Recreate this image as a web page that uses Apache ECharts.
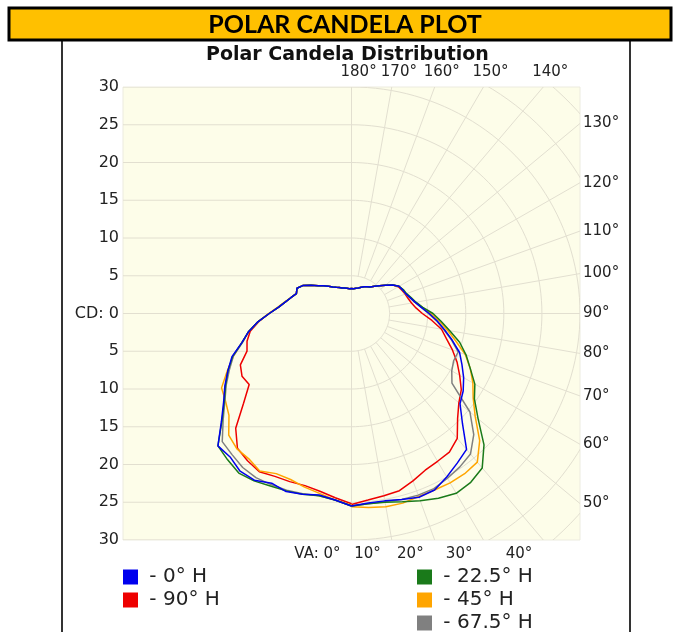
<!DOCTYPE html>
<html><head><meta charset="utf-8">
<script src="https://cdn.jsdelivr.net/npm/echarts@6/dist/echarts.min.js"></script>
<style>html,body{margin:0;padding:0;background:#fff}#c{width:679px;height:632px}</style>
</head><body><div id="c"></div>
<script>
// ---- data ----
const vaAngles = [0,5,10,15,20,25,30,35,40,45,50,55,60,65,70,75,80,85,90,95,100,105,110,115,120,125,130,135,140,145,150,155,160,165,170,175,180];
const seriesNames = ['0° H','22.5° H','45° H','67.5° H','90° H'];
const seriesColors = ['#0000ee','#1a7a1a','#ffa500','#808080','#ee0000'];
// candela values along the right half (VA 0..180) and left half (VA 0..180)
const cd0Right   = [25.5,25.2,25.2,25.5,25.9,25.8,25.0,24.2,23.5,20.6,18.6,17.9,17.0,16.0,15.1,13.7,12.4,11.3,10.2,9.2,8.5,8.0,7.6,7.4,7.2,6.6,5.8,5.2,4.7,4.3,4.1,3.9,3.7,3.5,3.4,3.3,3.3];
const cd0Left    = [25.5,24.8,24.4,24.8,25.1,24.8,25.5,25.5,24.8,24.8,22.3,20.5,19.2,17.9,16.7,14.9,13.7,12.3,10.8,9.6,8.8,8.2,7.7,7.9,7.4,6.5,5.7,5.2,4.7,4.3,4.0,3.8,3.6,3.5,3.4,3.3,3.3];
const cd225Right = [25.5,25.3,25.4,25.8,26.4,27.0,27.5,27.3,26.7,24.6,21.7,19.7,18.7,17.2,16.0,14.7,13.1,11.8,10.7,9.4,8.6,8.1,7.7,7.5,7.2,6.6,5.8,5.2,4.7,4.3,4.1,3.9,3.7,3.5,3.4,3.3,3.3];
const cd225Left  = [25.5,24.8,24.5,24.8,25.0,25.2,25.6,25.8,25.3,24.8,22.2,20.4,19.1,17.9,16.6,14.9,13.7,12.3,10.8,9.6,8.8,8.2,7.7,7.9,7.4,6.5,5.7,5.2,4.7,4.3,4.0,3.8,3.6,3.5,3.4,3.3,3.3];
const cd45Right  = [25.6,25.8,26.0,26.0,25.8,25.8,25.9,25.9,25.7,23.8,21.2,19.5,18.4,17.2,15.9,14.2,12.8,11.6,10.4,9.3,8.5,8.0,7.6,7.4,7.2,6.6,5.8,5.2,4.7,4.3,4.1,3.9,3.7,3.5,3.4,3.3,3.3];
const cd45Left   = [25.4,24.8,24.2,23.8,23.4,23.4,24.1,23.5,23.4,22.8,21.0,20.2,19.7,18.0,16.5,14.9,13.7,12.3,10.9,9.7,8.9,8.2,7.7,7.9,7.4,6.5,5.7,5.2,4.7,4.3,4.0,3.8,3.6,3.5,3.4,3.3,3.3];
const cd675Right = [25.5,25.3,25.3,25.5,25.6,25.6,25.2,24.8,24.3,22.7,20.3,16.1,15.2,14.8,14.9,13.6,12.3,11.2,10.1,9.2,8.5,8.0,7.6,7.4,7.2,6.6,5.8,5.2,4.7,4.3,4.1,3.9,3.7,3.5,3.4,3.3,3.3];
const cd675Left  = [25.5,24.8,24.5,24.7,24.9,25.0,25.1,24.9,24.4,24.0,22.0,20.3,19.0,17.7,16.5,14.8,13.7,12.3,10.8,9.6,8.8,8.2,7.7,7.9,7.4,6.5,5.7,5.2,4.7,4.3,4.0,3.8,3.6,3.5,3.4,3.3,3.3];
const cd90Right  = [25.3,24.8,24.5,24.3,23.6,22.9,22.6,22.4,21.6,19.7,18.4,17.6,16.4,15.3,14.1,12.9,12.0,10.6,9.3,8.5,8.0,7.7,7.5,7.3,7.1,6.6,5.8,5.2,4.7,4.3,4.1,3.9,3.7,3.5,3.4,3.3,3.3];
const cd90Left   = [25.2,24.5,23.9,23.6,23.7,23.8,24.2,23.8,23.3,21.5,18.5,16.4,16.6,16.1,14.6,14.2,13.5,12.2,10.8,9.6,8.8,8.2,7.7,7.9,7.4,6.5,5.7,5.2,4.7,4.3,4.0,3.8,3.6,3.5,3.4,3.3,3.3];

const cdMax = 30;
const cdTicks = [-30,-25,-20,-15,-10,-5,0,5,10,15,20,25,30];
const ringRadii = [5,10,15,20,25,30,35,40];
const radialAngles = [10,20,30,40,50,60,70,80,90,100,110,120,130,140,150,160,170];
const angleTicks = [0,10,20,30,40,50,60,70,80,90,100,110,120,130,140,150,160,170,180];
const angleTickLabels = ['VA: 0°','10°','20°','30°','40°','50°','60°','70°','80°','90°','100°','110°','120°','130°','140°','150°','160°','170°','180°'];

// ---- build ----
const rightSets = [cd0Right, cd225Right, cd45Right, cd675Right, cd90Right];
const leftSets  = [cd0Left, cd225Left, cd45Left, cd675Left, cd90Left];
const rad = d => d * Math.PI / 180;
function loop(right, left) {
  const pts = [];
  vaAngles.forEach((a, i) => pts.push([right[i] * Math.sin(rad(a)), -right[i] * Math.cos(rad(a))]));
  for (let i = vaAngles.length - 1; i >= 0; i--) {
    const a = vaAngles[i];
    pts.push([-left[i] * Math.sin(rad(a)), -left[i] * Math.cos(rad(a))]);
  }
  return pts;
}
const gridColor = '#e2dfd0';
const FONT = 'DejaVu Sans';

const dataOrder = [4, 2, 3, 1, 0]; // draw order: red, orange, gray, green, blue
const lineSeries = dataOrder.map(k => ({
  name: seriesNames[k], type: 'line', data: loop(rightSets[k], leftSets[k]),
  showSymbol: false, symbol: 'none', smooth: false, clip: true, z: 5,
  color: seriesColors[k], lineStyle: { width: 1.5, color: seriesColors[k] },
  emphasis: { disabled: true }
}));

const ringSeries = {
  type: 'custom', coordinateSystem: 'cartesian2d', clip: true, silent: true, z: 1,
  data: ringRadii.map(r => [r, 0]),
  renderItem(params, api) {
    const r = api.value(0); const pts = [];
    for (let a = 0; a <= 180; a += 2) pts.push(api.coord([r * Math.sin(rad(a)), -r * Math.cos(rad(a))]));
    return { type: 'polyline', shape: { points: pts }, style: { stroke: gridColor, lineWidth: 1, fill: null } };
  }
};
const levelSeries = {
  type: 'custom', coordinateSystem: 'cartesian2d', clip: true, silent: true, z: 1,
  data: cdTicks.map(v => [0, v]),
  renderItem(params, api) {
    const y = api.value(1);
    const p1 = api.coord([-cdMax, y]), p2 = api.coord([0, y]);
    return { type: 'line', shape: { x1: p1[0], y1: p1[1], x2: p2[0], y2: p2[1] }, style: { stroke: gridColor, lineWidth: 1 } };
  }
};
const spokeSeries = {
  type: 'custom', coordinateSystem: 'cartesian2d', clip: true, silent: true, z: 1,
  data: [0].concat(radialAngles, [180]).map(a => [a, 0]),
  renderItem(params, api) {
    const a = api.value(0);
    const r0 = (a === 0 || a === 180) ? 0 : 5;
    const p1 = api.coord([r0 * Math.sin(rad(a)), -r0 * Math.cos(rad(a))]);
    const p2 = api.coord([60 * Math.sin(rad(a)), -60 * Math.cos(rad(a))]);
    return { type: 'line', shape: { x1: p1[0], y1: p1[1], x2: p2[0], y2: p2[1] }, style: { stroke: gridColor, lineWidth: 1 } };
  }
};
const angleLabelSeries = {
  type: 'custom', coordinateSystem: 'cartesian2d', clip: false, silent: true, z: 2,
  data: angleTicks.map((a, i) => [a, i]),
  renderItem(params, api) {
    const a = api.value(0), i = api.value(1);
    const dx = Math.sin(rad(a)), dy = -Math.cos(rad(a));
    const tx = Math.abs(dx) > 1e-9 ? cdMax / Math.abs(dx) : Infinity;
    const ty = Math.abs(dy) > 1e-9 ? cdMax / Math.abs(dy) : Infinity;
    const t = Math.min(tx, ty);
    const p = api.coord([t * dx, t * dy]);
    let x, y, align;
    if (tx <= ty + 1e-6) { x = p[0] + 3; y = p[1]; align = 'left'; }
    else if (dy < 0) { x = p[0] - 11; y = p[1] + 14; align = 'right'; }
    else { x = p[0] - 11; y = p[1] - 15; align = 'left'; }
    return { type: 'text', x: x, y: y, style: { text: angleTickLabels[i], align: align, verticalAlign: 'middle', fill: '#222', font: '15px "' + FONT + '"' } };
  }
};

const legendText = { fontFamily: FONT, fontSize: 20, color: '#222' };
const chart = echarts.init(document.getElementById('c'), null, { renderer: 'canvas' });
chart.setOption({
  animation: false,
  backgroundColor: '#ffffff',
  title: { text: 'Polar Candela Distribution', left: 201, top: 41, textStyle: { fontFamily: FONT, fontWeight: 'bold', fontSize: 19, color: '#111' } },
  graphic: [
    { type: 'line', shape: { x1: 62, y1: 40, x2: 62, y2: 632 }, style: { stroke: '#333', lineWidth: 2 } },
    { type: 'line', shape: { x1: 630, y1: 40, x2: 630, y2: 632 }, style: { stroke: '#333', lineWidth: 2 } },
    { type: 'rect', shape: { x: 9, y: 8, width: 662, height: 32 }, style: { fill: '#FFC000', stroke: '#000', lineWidth: 3 } },
    { type: 'text', x: 345, y: 25, style: { text: 'POLAR CANDELA PLOT', align: 'center', verticalAlign: 'middle', fill: '#000', font: 'bold 25px Lato' } }
  ],
  grid: { left: 123, top: 87, width: 457, height: 453, show: true, backgroundColor: '#fdfde9', borderWidth: 1, borderColor: '#ecebdf' },
  xAxis: { type: 'value', min: -cdMax, max: cdMax, show: false },
  yAxis: { type: 'value', min: -cdMax, max: cdMax, interval: 5,
    axisLine: { show: false }, axisTick: { show: false }, splitLine: { show: false },
    axisLabel: { margin: 4, color: '#222', fontFamily: FONT, fontSize: 16,
      formatter: v => v === 0 ? 'CD: 0' : String(Math.abs(v)) } },
  legend: [
    { data: ['0° H', '90° H'], left: 123, top: 567, height: 100, orient: 'vertical', icon: 'rect', itemWidth: 15, itemHeight: 15, itemGap: 3,
      padding: 0, formatter: n => ' - ' + n, textStyle: legendText },
    { data: ['22.5° H', '45° H', '67.5° H'], left: 417, top: 567, height: 100, orient: 'vertical', icon: 'rect', itemWidth: 15, itemHeight: 15, itemGap: 3,
      padding: 0, formatter: n => ' - ' + n, textStyle: legendText }
  ],
  series: [ringSeries, levelSeries, spokeSeries, angleLabelSeries].concat(lineSeries)
});
</script></body></html>
